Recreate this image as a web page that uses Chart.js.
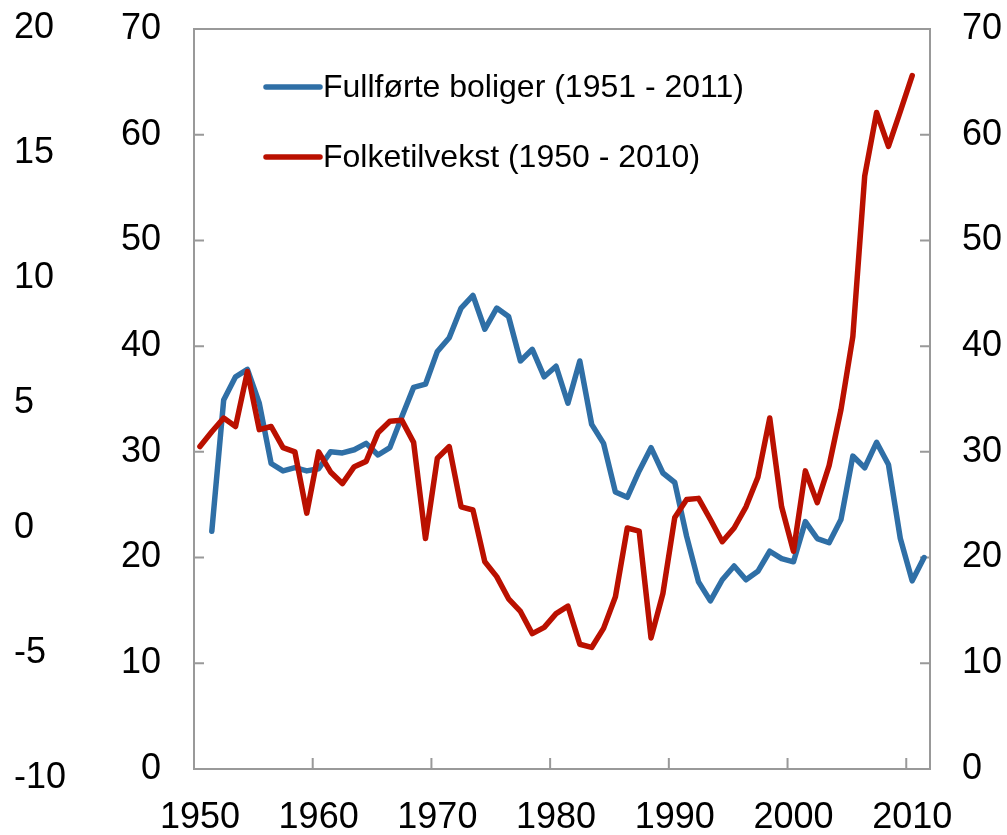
<!DOCTYPE html>
<html>
<head>
<meta charset="utf-8">
<script src="https://cdn.jsdelivr.net/npm/chart.js@4.4.1/dist/chart.umd.min.js"></script>
<style>
html, body { margin: 0; padding: 0; background: #fff; }
</style>
</head>
<body>
<canvas id="myChart" width="1007" height="835"></canvas>
<script>
// Kategorier (år)
const years = ['1950','1951','1952','1953','1954','1955','1956','1957','1958','1959',
    '1960','1961','1962','1963','1964','1965','1966','1967','1968','1969',
    '1970','1971','1972','1973','1974','1975','1976','1977','1978','1979',
    '1980','1981','1982','1983','1984','1985','1986','1987','1988','1989',
    '1990','1991','1992','1993','1994','1995','1996','1997','1998','1999',
    '2000','2001','2002','2003','2004','2005','2006','2007','2008','2009',
    '2010','2011'];

// Fullførte boliger, 1951 - 2011 (1950 mangler)
const boliger = [null, 22.5, 34.9, 37.1, 37.8, 34.6, 28.9, 28.2, 28.5, 28.2,
    28.4, 30.0, 29.9, 30.2, 30.8, 29.7, 30.4, 33.3, 36.1, 36.4,
    39.5, 40.8, 43.6, 44.8, 41.6, 43.6, 42.8, 38.6, 39.7, 37.1,
    38.1, 34.6, 38.6, 32.6, 30.8, 26.2, 25.7, 28.2, 30.4, 28.0,
    27.1, 22.0, 17.7, 15.9, 17.9, 19.2, 17.9, 18.7, 20.6, 19.9,
    19.6, 23.4, 21.8, 21.4, 23.6, 29.6, 28.5, 30.9, 28.8, 21.8,
    17.8, 20.0];

// Folketilvekst, 1950 - 2010 (2011 mangler)
const folketilvekst = [30.5, 31.9, 33.2, 32.4, 37.6, 32.1, 32.4, 30.4, 30.0, 24.2,
    30.0, 28.1, 27.0, 28.6, 29.1, 31.8, 32.9, 33.0, 30.9, 21.8,
    29.4, 30.5, 24.8, 24.5, 19.6, 18.2, 16.1, 14.9, 12.8, 13.4,
    14.7, 15.4, 11.8, 11.5, 13.3, 16.3, 22.8, 22.5, 12.4, 16.6,
    23.8, 25.5, 25.6, 23.6, 21.5, 22.8, 24.8, 27.6, 33.2, 24.8,
    20.6, 28.2, 25.2, 28.7, 34.0, 40.9, 56.1, 62.1, 58.9, 62.2,
    65.6, null];

const labelBoliger = 'Fullførte boliger (1951 - 2011)';
const labelFolk = 'Folketilvekst (1950 - 2010)';

// Aksemerker
const xTickYears = ['1950','1960','1970','1980','1990','2000','2010'];
const yTicks = [0, 10, 20, 30, 40, 50, 60, 70];
const outerTicks = [-10, -5, 0, 5, 10, 15, 20];

const frameColor = '#999999';

Chart.defaults.font.family = "'Liberation Sans', Arial, sans-serif";
Chart.defaults.font.size = 36;
Chart.defaults.color = '#000000';

// ingen ekstra luft over/under y-aksene
function noVPad(s) {
    s.paddingTop = 0;
    s.paddingBottom = 0;
}

// ramme rundt plottet + innovervendte tick-streker
const framePlugin = {
    id: 'frame',
    beforeDatasetsDraw(chart) {
        const { ctx, chartArea: a, scales } = chart;
        ctx.save();
        ctx.strokeStyle = frameColor;
        ctx.lineWidth = 2;
        ctx.strokeRect(a.left, a.top, a.right - a.left, a.bottom - a.top);
        ctx.beginPath();
        yTicks.forEach(v => {
            const py = scales.y.getPixelForValue(v);
            ctx.moveTo(a.left, py);
            ctx.lineTo(a.left + 10, py);
            ctx.moveTo(a.right, py);
            ctx.lineTo(a.right - 10, py);
        });
        xTickYears.forEach(yr => {
            const idx = years.indexOf(yr);
            const px = scales.x.getPixelForValue(idx - 0.5);
            ctx.moveTo(px, a.bottom);
            ctx.lineTo(px, a.bottom - 11);
        });
        ctx.stroke();
        ctx.restore();
    }
};

// forklaring inne i plottet
const legendPlugin = {
    id: 'innerLegend',
    afterDatasetsDraw(chart) {
        const { ctx, chartArea: a } = chart;
        const x0 = a.left + 72;
        ctx.save();
        ctx.font = "32px 'Liberation Sans', Arial, sans-serif";
        ctx.fillStyle = '#000000';
        ctx.textBaseline = 'middle';
        chart.data.datasets.forEach((ds, i) => {
            const y = a.top + 58 + i * 70;
            ctx.strokeStyle = ds.borderColor;
            ctx.lineWidth = 5.5;
            ctx.lineCap = 'round';
            ctx.beginPath();
            ctx.moveTo(x0, y);
            ctx.lineTo(x0 + 54, y);
            ctx.stroke();
            ctx.fillText(ds.label, x0 + 57, y + 1);
        });
        ctx.restore();
    }
};

const ctx = document.getElementById('myChart').getContext('2d');
new Chart(ctx, {
    type: 'line',
    data: {
        labels: years,
        datasets: [{
            label: labelBoliger,
            data: boliger,
            borderColor: '#2F6FA6',
            borderWidth: 5.5,
            pointRadius: 0,
            tension: 0,
            borderJoinStyle: 'round',
            borderCapStyle: 'round',
            yAxisID: 'y',
            order: 1
        }, {
            label: labelFolk,
            data: folketilvekst,
            borderColor: '#BA1000',
            borderWidth: 5.5,
            pointRadius: 0,
            tension: 0,
            borderJoinStyle: 'round',
            borderCapStyle: 'round',
            yAxisID: 'y',
            order: 0
        }]
    },
    options: {
        responsive: false,
        animation: false,
        devicePixelRatio: 1,
        layout: { padding: { left: 14, right: 0, top: 29, bottom: 0 } },
        plugins: {
            legend: { display: false },
            tooltip: { enabled: false }
        },
        scales: {
            x: {
                type: 'category',
                offset: true,
                grid: { display: false, drawTicks: false },
                border: { display: false },
                ticks: {
                    autoSkip: false,
                    maxRotation: 0,
                    minRotation: 0,
                    padding: 27,
                    callback: function (value) {
                        const lab = this.getLabelForValue(value);
                        return xTickYears.includes(lab) ? lab : '';
                    }
                },
                afterFit: s => { s.height = 66; s.paddingLeft = 0; s.paddingRight = 0; }
            },
            yOuter: {
                type: 'linear',
                position: 'left',
                weight: 10,
                min: -9.62,
                max: 19.98,
                bounds: 'data',
                grid: { display: false, drawTicks: false },
                border: { display: false },
                ticks: { autoSkip: false, crossAlign: 'far', padding: 0 },
                afterBuildTicks: s => { s.ticks = outerTicks.map(v => ({ value: v })); },
                afterFit: s => { s.width = 80; noVPad(s); }
            },
            y: {
                type: 'linear',
                position: 'left',
                weight: 0,
                min: 0,
                max: 70,
                grid: { display: false, drawTicks: false },
                border: { display: false },
                ticks: { stepSize: 10, padding: 33, autoSkip: false },
                afterFit: s => { s.width = 100; noVPad(s); }
            },
            y2: {
                type: 'linear',
                position: 'right',
                min: 0,
                max: 70,
                grid: { display: false, drawTicks: false },
                border: { display: false },
                ticks: { stepSize: 10, padding: 32, autoSkip: false },
                afterFit: s => { s.width = 77; noVPad(s); }
            }
        }
    },
    plugins: [framePlugin, legendPlugin]
});
</script>
</body>
</html>
